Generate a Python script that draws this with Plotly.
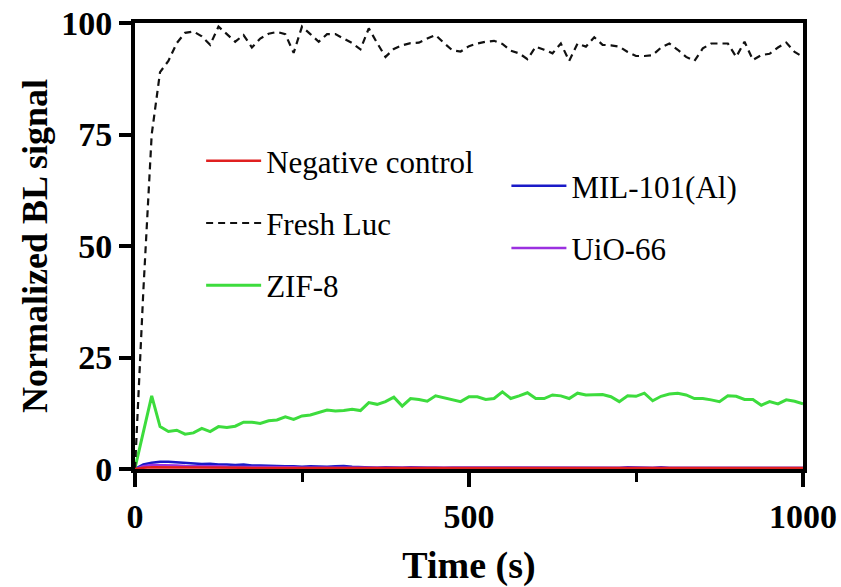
import plotly.graph_objects as go

# time grid (s), 12.5 s sampling
time_s = [i * 12.5 for i in range(81)]

fresh_luc = [0, 40, 75, 89, 91.5, 95.5, 97.8, 98.1, 97, 95.1,
             99.2, 97.5, 95.8, 97.3, 94.5, 96.5, 97.6, 98, 97.5, 93.3,
             99.2, 97.5, 95.8, 97.5, 97.5, 96.5, 95.5, 94.1, 98.8, 95.5,
             92.4, 94.2, 95, 95.5, 95.6, 96.5, 97.3, 95.5, 93.9, 93.6,
             94.8, 95.4, 95.8, 96, 95.3, 93.8, 93.2, 91.9, 94.7, 94,
             93.2, 95.4, 91.5, 95.4, 94.7, 96.8, 95.1, 95, 94.7, 93.5,
             92.6, 92.6, 92.8, 94.5, 95.4, 94, 92.4, 91.5, 94.3, 95.4,
             95.4, 95.4, 92.4, 95.8, 91.7, 92.8, 93.1, 94.5, 95.6, 93.5,
             92.4]

zif8 = [0.2, 8.3, 16.4, 9.5, 8.4, 8.7, 7.8, 8.1, 9.1, 8.4,
        9.5, 9.3, 9.6, 10.5, 10.5, 10.2, 10.8, 11.0, 11.7, 11.1,
        11.9, 12.1, 12.6, 13.2, 13.0, 13.1, 13.4, 13.1, 14.9, 14.5,
        15.1, 16.1, 14.1, 15.8, 15.6, 15.2, 16.4, 16.0, 15.5, 15.1,
        16.2, 16.2, 15.6, 15.8, 17.3, 15.8, 16.4, 17.1, 15.8, 15.8,
        16.6, 16.4, 15.8, 17.0, 16.6, 16.6, 16.7, 16.2, 15.1, 16.4,
        16.3, 17.0, 15.3, 16.3, 16.8, 17.0, 16.6, 15.8, 15.8, 15.5,
        15.1, 16.4, 16.3, 15.6, 15.6, 14.3, 15.1, 14.6, 15.5, 15.2,
        14.6]

mil101 = [0, 1.0, 1.4, 1.6, 1.6, 1.5, 1.3, 1.2, 1.1, 1.2,
          1.0, 1.0, 0.9, 1.0, 0.8, 0.8, 0.7, 0.7, 0.6, 0.6,
          0.5, 0.6, 0.5, 0.5, 0.6, 0.7, 0.5, 0.4, 0.4, 0.3,
          0.4, 0.3, 0.3, 0.4, 0.3, 0.3, 0.3, 0.2, 0.3, 0.3,
          0.3, 0.2, 0.3, 0.3, 0.2, 0.3, 0.3, 0.2, 0.2, 0.3,
          0.3, 0.2, 0.2, 0.3, 0.2, 0.2, 0.3, 0.2, 0.2, 0.4,
          0.3, 0.2, 0.2, 0.4, 0.2, 0.2, 0.2, 0.3, 0.2, 0.2,
          0.2, 0.2, 0.3, 0.2, 0.2, 0.2, 0.2, 0.2, 0.2, 0.2,
          0.2]

uio66 = [0, 0.6, 0.9, 0.9, 0.8, 0.8, 0.7, 0.7, 0.6, 0.6,
         0.6, 0.5, 0.5, 0.5, 0.5, 0.4, 0.4, 0.4, 0.4, 0.4,
         0.3, 0.3, 0.3, 0.3, 0.3, 0.3, 0.3, 0.3, 0.3, 0.2,
         0.2, 0.2, 0.2, 0.2, 0.2, 0.2, 0.2, 0.2, 0.2, 0.2,
         0.2, 0.2, 0.2, 0.2, 0.2, 0.2, 0.2, 0.2, 0.2, 0.2,
         0.2, 0.2, 0.2, 0.2, 0.2, 0.2, 0.2, 0.2, 0.2, 0.2,
         0.2, 0.2, 0.2, 0.2, 0.2, 0.2, 0.2, 0.2, 0.2, 0.2,
         0.2, 0.2, 0.2, 0.2, 0.2, 0.2, 0.2, 0.2, 0.2, 0.2,
         0.2]

neg_ctrl = [0, 0.3, 0.4, 0.4, 0.3, 0.3, 0.3, 0.3, 0.3, 0.3,
            0.3, 0.3, 0.3, 0.3, 0.2, 0.2, 0.2, 0.2, 0.2, 0.2,
            0.2, 0.2, 0.2, 0.2, 0.2, 0.2, 0.2, 0.2, 0.2, 0.2,
            0.2, 0.2, 0.2, 0.2, 0.2, 0.2, 0.2, 0.2, 0.2, 0.2,
            0.2, 0.2, 0.2, 0.2, 0.2, 0.2, 0.2, 0.2, 0.2, 0.2,
            0.2, 0.2, 0.2, 0.2, 0.2, 0.2, 0.2, 0.2, 0.2, 0.2,
            0.2, 0.2, 0.2, 0.2, 0.2, 0.2, 0.2, 0.2, 0.2, 0.2,
            0.2, 0.2, 0.2, 0.2, 0.2, 0.2, 0.2, 0.2, 0.2, 0.2,
            0.2]

x_ticks = [0, 500, 1000]
x_minor_ticks = [250, 750]
y_ticks = [0, 25, 50, 75, 100]

SERIF = "Liberation Serif"

fig = go.Figure()

fig.add_trace(go.Scatter(x=time_s, y=mil101, mode="lines", name="MIL-101(Al)",
                         line=dict(color="#1a1ac8", width=2.5),
                         legend="legend2", legendgroup="c", legendrank=1))
fig.add_trace(go.Scatter(x=time_s, y=uio66, mode="lines", name="UiO-66",
                         line=dict(color="#9b30e0", width=2.5),
                         legend="legend2", legendgroup="d", legendrank=2))
fig.add_trace(go.Scatter(x=time_s, y=zif8, mode="lines", name="ZIF-8",
                         line=dict(color="#3ddc3d", width=3),
                         legendgroup="z", legendrank=3))
fig.add_trace(go.Scatter(x=time_s, y=fresh_luc, mode="lines", name="Fresh Luc",
                         line=dict(color="#111111", width=2.2, dash="7px,5px"),
                         legendgroup="f", legendrank=2))
fig.add_trace(go.Scatter(x=time_s, y=neg_ctrl, mode="lines", name="Negative control",
                         line=dict(color="#e02020", width=2.5),
                         legendgroup="n", legendrank=1))

fig.update_layout(
    width=841, height=587,
    margin=dict(l=135, r=38, t=23, b=118, autoexpand=False),
    plot_bgcolor="white", paper_bgcolor="white",
    font=dict(family=SERIF, color="black"),
    showlegend=True,
    legend=dict(x=0.099, y=0.751, xanchor="left", yanchor="top",
                bgcolor="rgba(0,0,0,0)", font=dict(family=SERIF, size=31),
                traceorder="grouped", tracegroupgap=19, itemwidth=55),
    legend2=dict(x=0.556, y=0.695, xanchor="left", yanchor="top",
                 bgcolor="rgba(0,0,0,0)", font=dict(family=SERIF, size=31),
                 traceorder="grouped", tracegroupgap=19, itemwidth=55),
    xaxis=dict(range=[0, 1000], tickvals=x_ticks, ticktext=[str(v) for v in x_ticks],
               automargin=False,
               ticks="outside", ticklen=14, tickwidth=4, tickcolor="black",
               minor=dict(tickvals=x_minor_ticks, ticks="outside", ticklen=9,
                          tickwidth=3, tickcolor="black"),
               showline=True, linewidth=4, linecolor="black", mirror=True,
               showgrid=False, zeroline=False,
               tickfont=dict(family=SERIF, size=34, weight="bold"),
               title=dict(text="Time (s)", font=dict(family=SERIF, size=38, weight="bold"),
                          standoff=22)),
    yaxis=dict(range=[0, 100], tickvals=y_ticks, ticktext=[str(v) for v in y_ticks],
               automargin=False,
               ticks="outside", ticklen=12, tickwidth=4, tickcolor="black",
               showline=True, linewidth=4, linecolor="black", mirror=True,
               showgrid=False, zeroline=False,
               tickfont=dict(family=SERIF, size=34, weight="bold"),
               title=dict(text="Normalized BL signal",
                          font=dict(family=SERIF, size=36, weight="bold"),
                          standoff=4)),
)

fig.write_html("out.html")
